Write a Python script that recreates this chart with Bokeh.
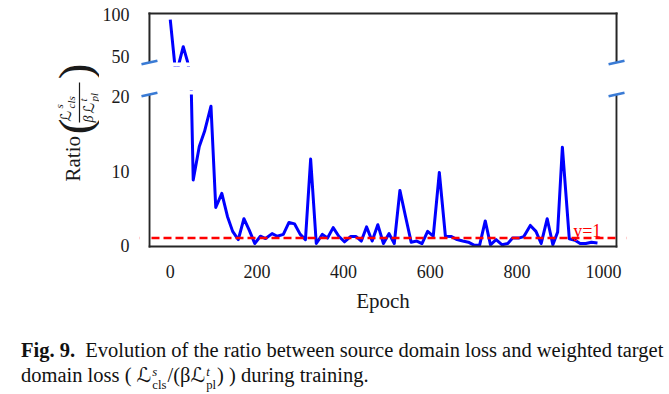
import math
from bokeh.plotting import figure
from bokeh.models import (Range1d, LinearAxis, FixedTicker, Span, Arrow, Div, Label,
                          ColumnDataSource, BoxAnnotation)
from bokeh.layouts import row, column
from bokeh.embed import file_html
from bokeh.resources import INLINE
from bokeh.core.properties import value

# ---------------- data ----------------
epochs = [0, 13, 30, 40, 53, 67, 79, 94, 105, 119, 132, 144, 157, 170, 182, 195, 208, 220,
          235, 247, 261, 274, 287, 300, 312, 324, 337, 351, 363, 376, 389, 402, 416, 429,
          441, 453, 466, 479, 492, 505, 517, 530, 543, 556, 569, 581, 594, 607, 621, 635,
          649, 662, 675, 688, 701, 714, 727, 739, 752, 766, 779, 790, 804, 816, 831, 844,
          856, 870, 883, 894, 905, 921, 934, 946, 959, 972, 986]
ratio = [94.0, 28.0, 62.0, 44.0, 8.8, 13.3, 15.3, 18.7, 5.1, 7.0, 3.9, 1.9, 0.8, 3.6, 2.1, 0.27,
         1.25, 0.94, 1.6, 1.25, 1.5, 3.1, 2.9, 1.5, 0.8, 11.6, 0.27, 1.5, 1.0, 2.4, 1.25, 0.5,
         1.2, 1.2, 0.6, 2.5, 0.6, 2.8, 0.27, 1.6, 0.27, 7.4, 3.9, 0.45, 0.6, 0.27, 1.9, 1.25,
         9.8, 1.25, 1.2, 0.8, 0.6, 0.45, 0.05, 0.05, 3.3, 0.1, 0.8, 0.1, 0.27, 1.0, 1.0, 1.2,
         2.7, 1.9, 0.27, 3.6, 0.1, 1.8, 13.2, 0.9, 0.7, 0.27, 0.27, 0.45, 0.35]
x_ticks = [0, 200, 400, 600, 800, 1000]
top_ticks = [50, 100]
bottom_ticks = [0, 10, 20]
ref_level = 1
ref_text = "y=1"

# ---------------- layout / style constants ----------------
SERIF = "Liberation Serif"
SCRIPT = "DejaVu Serif, DejaVu Sans, Liberation Serif"
X_VIS = (-48, 1030)          # visible panel x-limits
TOP_VIS = (43.3, 101.2)      # visible y-limits of upper panel
BOT_VIS = (-0.13, 20.27)     # visible y-limits of lower panel
VIS_W, TOP_VIS_H, BOT_VIS_H = 469, 49, 152   # visible panel sizes in px
PAD_X = 10                   # extra frame room (px) for the axis-break marks
BLUE = "#0000ff"
RED = "#ff0000"
FRAME_C = "#262626"
TICK_C = "#1a1a1a"
MARK_C = "#3a7bd5"
LAB_W = 99
LEFT_B, RIGHT_B = 38, 20
TOP_H, BOT_H = 78, 243

PXX = VIS_W / (X_VIS[1] - X_VIS[0])
X_FRAME = (X_VIS[0] - PAD_X / PXX, X_VIS[1] + PAD_X / PXX)
FRAME_W = VIS_W + 2 * PAD_X

src = ColumnDataSource(dict(epoch=epochs, ratio=ratio))


def pad_range(vis, vis_h, pad_top, pad_bot):
    pxy = vis_h / (vis[1] - vis[0])
    return (vis[0] - pad_bot / pxy, vis[1] + pad_top / pxy), pxy


def base_fig(h, yr, top_b, bot_b):
    f = figure(width=LEFT_B + FRAME_W + RIGHT_B, height=h,
               x_range=Range1d(*X_FRAME), y_range=Range1d(*yr),
               output_backend="svg", toolbar_location=None,
               x_axis_location=None, y_axis_location=None,
               min_border_left=LEFT_B, min_border_right=RIGHT_B,
               min_border_top=top_b, min_border_bottom=bot_b,
               outline_line_color=None, background_fill_color="white")
    f.xgrid.visible = False
    f.ygrid.visible = False
    return f


def style_axis(ax):
    ax.major_tick_out = 0
    ax.major_tick_in = 0
    ax.minor_tick_out = 0
    ax.minor_tick_in = 0
    ax.axis_line_color = None
    ax.major_label_text_font = SERIF
    ax.major_label_text_font_size = "18px"
    ax.major_label_text_color = TICK_C


def borders(f, y_lo, y_hi, sides):
    xs0, ys0, xs1, ys1 = [], [], [], []
    if "left" in sides:
        xs0.append(X_VIS[0]); ys0.append(y_lo); xs1.append(X_VIS[0]); ys1.append(y_hi)
    if "right" in sides:
        xs0.append(X_VIS[1]); ys0.append(y_lo); xs1.append(X_VIS[1]); ys1.append(y_hi)
    if "top" in sides:
        xs0.append(X_VIS[0]); ys0.append(y_hi); xs1.append(X_VIS[1]); ys1.append(y_hi)
    if "bottom" in sides:
        xs0.append(X_VIS[0]); ys0.append(y_lo); xs1.append(X_VIS[1]); ys1.append(y_lo)
    f.segment(x0=xs0, y0=ys0, x1=xs1, y1=ys1, line_color=FRAME_C, line_width=2,
              line_cap="square")


def break_marks(f, y_edge, pxy):
    dx = 8 / PXX
    dy = 1.8 / pxy
    for xe in X_VIS:
        f.add_layout(Arrow(end=None, x_start=xe - dx, y_start=y_edge - dy,
                           x_end=xe + dx, y_end=y_edge + dy,
                           line_color=MARK_C, line_width=2.5))


# ---------------- top panel ----------------
top_yr, top_pxy = pad_range(TOP_VIS, TOP_VIS_H, 2, 4)
top = base_fig(TOP_H, top_yr, 11, 12)
ya = LinearAxis(ticker=FixedTicker(ticks=top_ticks), major_label_standoff=10)
style_axis(ya)
top.add_layout(ya, "left")
top.line("epoch", "ratio", source=src, line_color=BLUE, line_width=3, line_join="round")
borders(top, TOP_VIS[0], TOP_VIS[1], ("left", "right", "top"))
top.add_layout(BoxAnnotation(top=TOP_VIS[0], fill_color="white", fill_alpha=1.0,
                             line_color=None))
break_marks(top, TOP_VIS[0], top_pxy)

# ---------------- bottom panel ----------------
bot_yr, bot_pxy = pad_range(BOT_VIS, BOT_VIS_H, 4, 2)
bot = base_fig(BOT_H, bot_yr, 12, 73)
yb = LinearAxis(ticker=FixedTicker(ticks=bottom_ticks), major_label_standoff=10)
style_axis(yb)
bot.add_layout(yb, "left")
xa = LinearAxis(ticker=FixedTicker(ticks=x_ticks), major_label_standoff=16,
                axis_label="Epoch", axis_label_standoff=8)
style_axis(xa)
xa.axis_label_text_font = SERIF
xa.axis_label_text_font_size = "21px"
xa.axis_label_text_font_style = "normal"
xa.axis_label_text_color = TICK_C
bot.add_layout(xa, "below")
bot.line("epoch", "ratio", source=src, line_color=BLUE, line_width=3, line_join="round")
bot.add_layout(BoxAnnotation(bottom=BOT_VIS[1], fill_color="white", fill_alpha=1.0,
                             line_color=None))
bot.add_layout(Span(location=ref_level, dimension="width", line_color=RED,
                    line_dash="8 4", line_width=2.5))
EDGE = 1.2 / PXX
bot.add_layout(BoxAnnotation(right=X_VIS[0] - EDGE, fill_color="white", fill_alpha=1.0,
                             line_color=None))
bot.add_layout(BoxAnnotation(left=X_VIS[1] + EDGE, fill_color="white", fill_alpha=1.0,
                             line_color=None))
bot.add_layout(Label(x=930, y=1.9, text=ref_text, text_color=RED, text_font=SERIF,
                     text_font_size="18px", text_align="left", text_baseline="alphabetic"))
borders(bot, BOT_VIS[0], BOT_VIS[1], ("left", "right", "bottom"))
break_marks(bot, BOT_VIS[1], bot_pxy)

# ---------------- y-axis title (rotated, built from text pieces) ----------------
# local coordinates: px measured from the left of this panel, py from its top
LH = TOP_H + BOT_H
lab = figure(width=LAB_W, height=LH, x_range=Range1d(0, LAB_W), y_range=Range1d(0, LH),
             min_border=0, outline_line_color=None, x_axis_location=None,
             y_axis_location=None, toolbar_location=None, output_backend="svg")
lab.xgrid.visible = False
lab.ygrid.visible = False


def ytxt(px, py, t, size, style="normal", align="left", font=SERIF):
    lab.text(x=[px], y=[LH - py], text=[t], angle=math.pi / 2,
             text_font=value(font), text_font_size=size, text_font_style=style,
             text_align=align, text_baseline="middle", text_color=TICK_C)


ytxt(72, 181, "Ratio", "21px")
ytxt(74, 126, "(", "47px", align="center")
ytxt(74, 71, ")", "47px", align="center")
ytxt(65, 121, "ℒ", "15px", "italic", font=SCRIPT)
ytxt(58, 108, "s", "11px", "italic")
ytxt(70, 108, "cls", "11px", "italic")
ytxt(88, 122, "β", "14px", "italic")
ytxt(88, 113, "ℒ", "15px", "italic", font=SCRIPT)
ytxt(82, 101, "t", "11px", "italic")
ytxt(93, 101, "pl", "11px", "italic")
lab.segment(x0=[79], y0=[LH - 82], x1=[79], y1=[LH - 122], line_color=TICK_C, line_width=1.2)

# ---------------- caption ----------------
stack_cls = ('<span style="display:inline-block;vertical-align:-0.55em;line-height:1.05;'
             'font-size:0.62em;text-align:left;margin:0 1px"><i>s</i><br>cls</span>')
stack_pl = ('<span style="display:inline-block;vertical-align:-0.55em;line-height:1.05;'
            'font-size:0.62em;text-align:left;margin:0 1px"><i>t</i><br>pl</span>')
L_SCRIPT = '<i style="font-family:\'DejaVu Serif\',\'DejaVu Sans\'">ℒ</i>'
cap_html = ('<div style="font-family:\'Liberation Serif\';font-size:20.5px;line-height:25px;'
            'white-space:nowrap;padding-left:16px;padding-top:12px;color:#111">'
            '<b>Fig. 9.</b>&nbsp; Evolution of the ratio between source domain loss and weighted target<br>'
            'domain loss ( ' + L_SCRIPT + stack_cls + '/(β' + L_SCRIPT + stack_pl
            + ') ) during training.</div>')
cap = Div(text=cap_html, width=653, height=70)

layout = column(row(lab, column(top, bot)), cap)
open("out.html", "w").write(file_html(layout, INLINE))
